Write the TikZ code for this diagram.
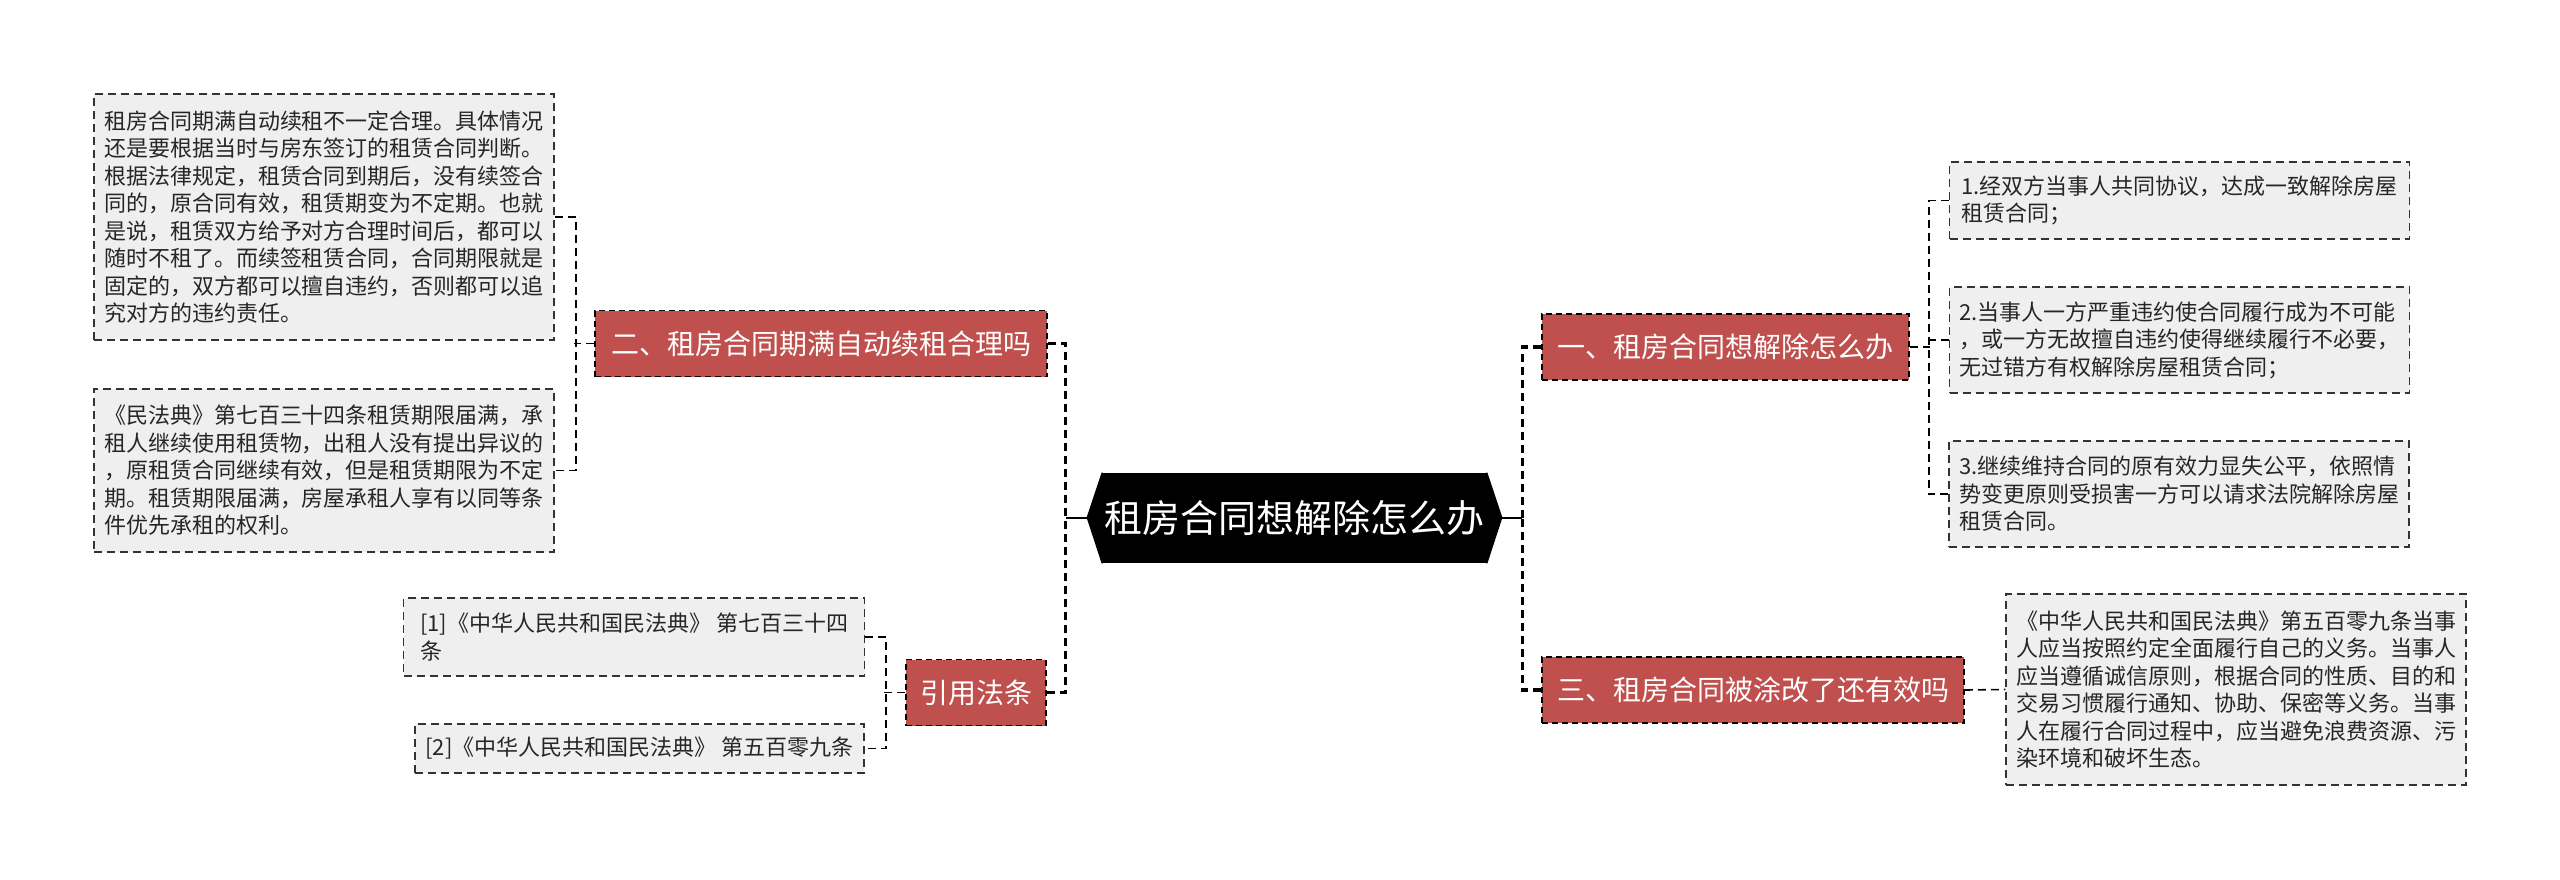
\documentclass[tikz,border=0pt]{standalone}
\usepackage{fontspec}
\setmainfont{Noto Sans CJK SC}
\usetikzlibrary{calc}
\definecolor{branchred}{HTML}{C0504D}
\definecolor{leafgray}{HTML}{EFEFEF}
\definecolor{leafline}{HTML}{333333}
\definecolor{textdark}{HTML}{262626}
\begin{document}
\begin{tikzpicture}[x=0.5pt,y=-0.5pt,
  leaf/.style={draw=leafline, fill=leafgray, line width=0.75pt, dash pattern=on 4pt off 2.5pt,
    align=left, inner xsep=4pt, inner ysep=0pt, text=textdark,
    font=\fontsize{11}{13.75}\selectfont, minimum width=230pt},
  branch/.style={draw=black, fill=branchred, line width=0.75pt, dash pattern=on 3pt off 2pt,
    text=white, font=\fontsize{14}{16}\selectfont, minimum height=33pt, inner xsep=0pt},
  conn/.style={draw=black, line width=0.8pt, dash pattern=on 4pt off 2.5pt},
  trunk/.style={draw=black, line width=1.6pt, dash pattern=on 4pt off 2.5pt},
  solidconn/.style={draw=black, line width=1pt}
]
\useasboundingbox (0,0) rectangle (2560,879);

% central topic
\node[fill=black, text=white, font=\fontsize{19}{22}\selectfont,
      minimum width=192.5pt, minimum height=45pt, inner sep=0pt] (c) at (1294.5,518) {租房合同想解除怎么办};
\fill[black] ([xshift=0.6pt]c.north west) -- (c.north west) -- ++(-15,45) coordinate (cL)
   -- (c.south west) -- ([xshift=0.6pt]c.south west) -- cycle;
\fill[black] ([xshift=-0.6pt]c.north east) -- (c.north east) -- ++(15,45) coordinate (cR)
   -- (c.south east) -- ([xshift=-0.6pt]c.south east) -- cycle;

% branches
\node[branch, minimum width=183.5pt] (b1) at (1725.5,347) {一、租房合同想解除怎么办};
\node[branch, minimum width=226pt] (b2) at (821,343.5) {二、租房合同期满自动续租合理吗};
\node[branch, minimum width=211pt] (b3) at (1753,690) {三、租房合同被涂改了还有效吗};
\node[branch, minimum width=70pt] (b4) at (976,692.5) {引用法条};

% leaves left
\node[leaf, minimum height=123pt] (L1) at (324,217) {租房合同期满自动续租不一定合理。具体情况\\还是要根据当时与房东签订的租赁合同判断。\\根据法律规定，租赁合同到期后，没有续签合\\同的，原合同有效，租赁期变为不定期。也就\\是说，租赁双方给予对方合理时间后，都可以\\随时不租了。而续签租赁合同，合同期限就是\\固定的，双方都可以擅自违约，否则都可以追\\究对方的违约责任。};
\node[leaf, minimum height=81.5pt] (L2) at (324,470.5) {《民法典》第七百三十四条租赁期限届满，承\\租人继续使用租赁物，出租人没有提出异议的\\，原租赁合同继续有效，但是租赁期限为不定\\期。租赁期限届满，房屋承租人享有以同等条\\件优先承租的权利。};
\node[leaf, minimum width=230.5pt, minimum height=39pt] (R1) at (634,637) {[1]《中华人民共和国民法典》~第七百三十四\\条};
\node[leaf, minimum width=224.5pt, minimum height=24.5pt] (R2) at (639.5,748.5) {[2]《中华人民共和国民法典》~第五百零九条};

% leaves right
\node[leaf, minimum height=38.5pt] (A1) at (2179.5,200.5) {1.经双方当事人共同协议，达成一致解除房屋\\租赁合同；};
\node[leaf, minimum height=53pt] (A2) at (2179.5,340) {2.当事人一方严重违约使合同履行成为不可能\\，或一方无故擅自违约使得继续履行不必要，\\无过错方有权解除房屋租赁合同；};
\node[leaf, minimum height=53pt] (A3) at (2179,494) {3.继续维持合同的原有效力显失公平，依照情\\势变更原则受损害一方可以请求法院解除房屋\\租赁合同。};
\node[leaf, minimum height=95.5pt] (B1) at (2236,689.5) {《中华人民共和国民法典》第五百零九条当事\\人应当按照约定全面履行自己的义务。当事人\\应当遵循诚信原则，根据合同的性质、目的和\\交易习惯履行通知、协助、保密等义务。当事\\人在履行合同过程中，应当避免浪费资源、污\\染环境和破坏生态。};

% trunks
\draw[solidconn] (cL) -- ++(-21,0) coordinate (jc);
\draw[trunk] (b2.east) -| (jc);
\draw[trunk] (b4.east) -| (jc);
\draw[solidconn] (cR) -- ++(20,0) coordinate (jr);
\draw[trunk] (b1.west) -| (jr);
\draw[trunk] (b3.west) -| (jr);

% branch -> leaves
\draw[conn] (b1.east) -- ++(20,0);
\draw[conn] (A1.west) -- ++(-20,0) |- (A3.west);
\draw[conn] (A2.west) -- ++(-20,0);

\draw[conn] (b2.west) -- ++(-20,0);
\draw[conn] (L1.east) -- ++(21,0) |- (L2.east);

\draw[conn] (b4.west) -- ++(-21,0);
\draw[conn] (R1.east) -- ++(21,0) |- (R2.east);

\draw[conn] (b3.east) -- (B1.west);
\end{tikzpicture}
\end{document}
